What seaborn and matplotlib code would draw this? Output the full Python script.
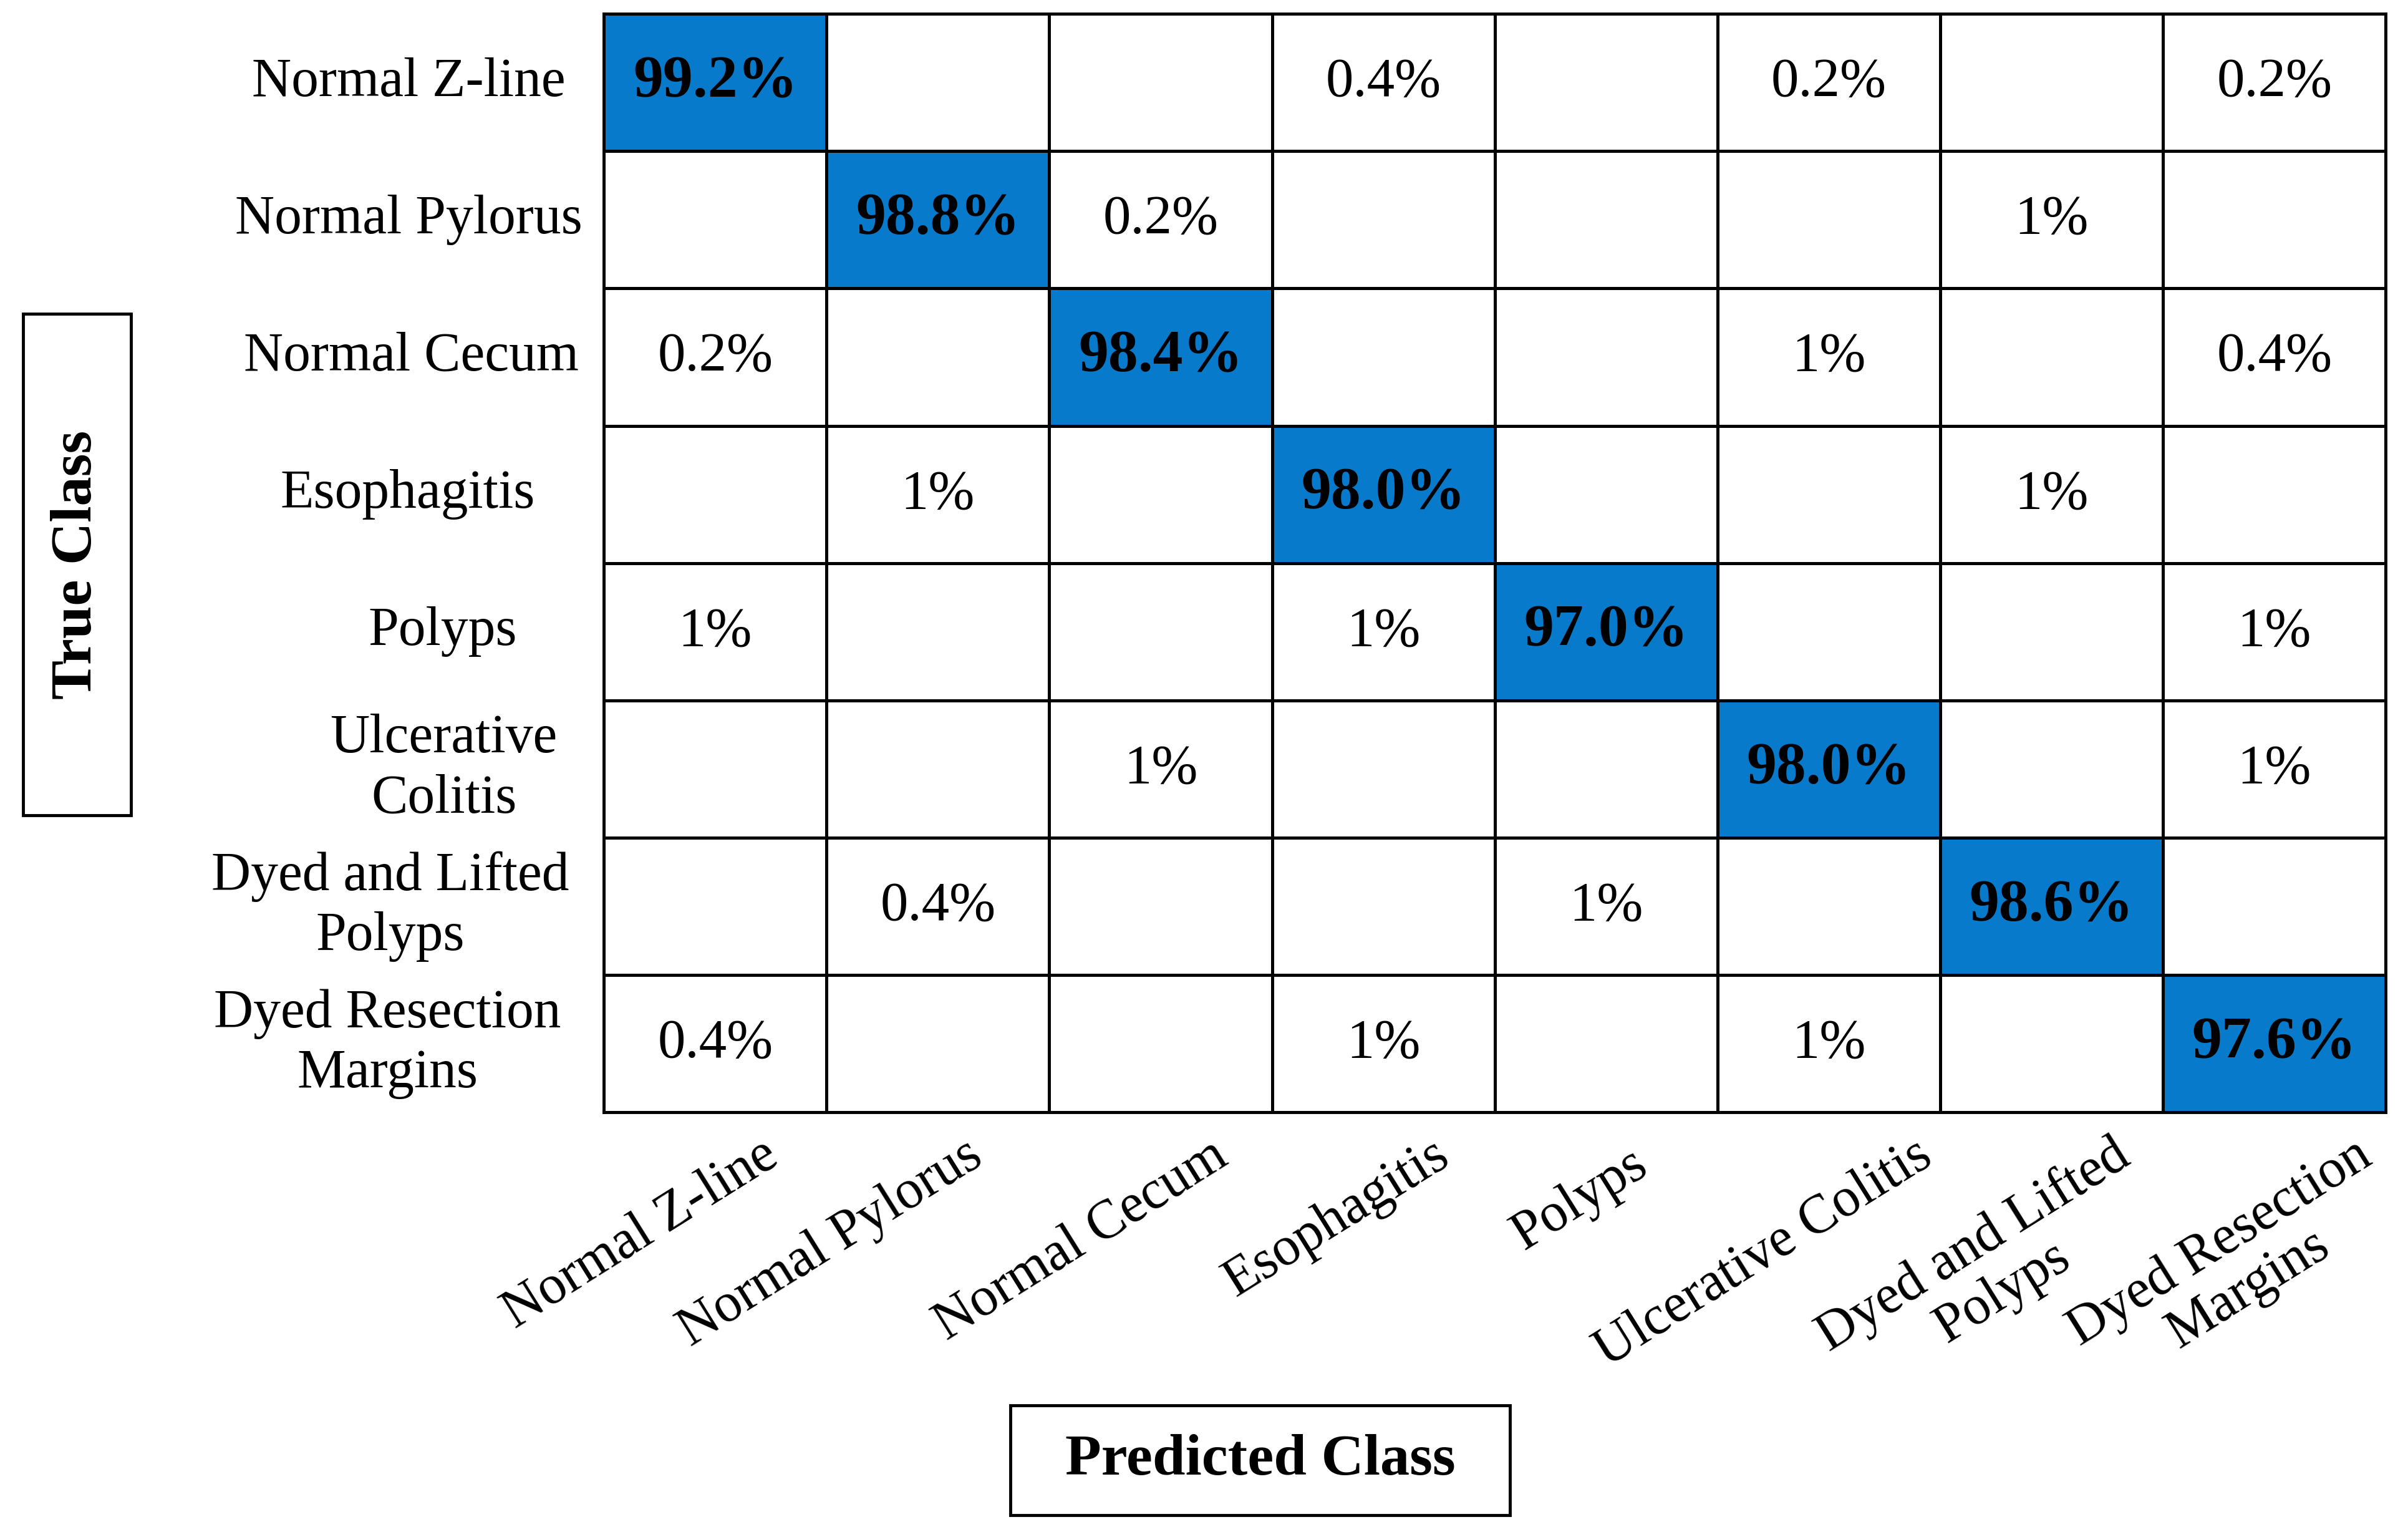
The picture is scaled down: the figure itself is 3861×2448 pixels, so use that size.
import numpy as np
import pandas as pd
import matplotlib
matplotlib.use("Agg")
import matplotlib.pyplot as plt
import matplotlib.transforms as mtransforms
from matplotlib.colors import ListedColormap
from matplotlib.patches import Rectangle
import seaborn as sns

classes = ["Normal Z-line", "Normal Pylorus", "Normal Cecum", "Esophagitis",
           "Polyps", "Ulcerative Colitis", "Dyed and Lifted Polyps",
           "Dyed Resection Margins"]
y_labels = ["Normal Z-line", "Normal Pylorus", "Normal Cecum", "Esophagitis",
            "Polyps", "Ulcerative\nColitis", "Dyed and Lifted\nPolyps",
            "Dyed Resection\nMargins"]
x_labels = ["Normal Z-line", "Normal Pylorus", "Normal Cecum", "Esophagitis",
            "Polyps", "Ulcerative Colitis", "Dyed and Lifted\nPolyps",
            "Dyed Resection\nMargins"]

nan = np.nan
row_z_line    = [99.2, nan, nan, 0.4, nan, 0.2, nan, 0.2]
row_pylorus   = [nan, 98.8, 0.2, nan, nan, nan, 1, nan]
row_cecum     = [0.2, nan, 98.4, nan, nan, 1, nan, 0.4]
row_esophag   = [nan, 1, nan, 98.0, nan, nan, 1, nan]
row_polyps    = [1, nan, nan, 1, 97.0, nan, nan, 1]
row_ulcer     = [nan, nan, 1, nan, nan, 98.0, nan, 1]
row_dyed_lift = [nan, 0.4, nan, nan, 1, nan, 98.6, nan]
row_dyed_res  = [0.4, nan, nan, 1, nan, 1, nan, 97.6]

values = np.array([row_z_line, row_pylorus, row_cecum, row_esophag,
                   row_polyps, row_ulcer, row_dyed_lift, row_dyed_res], dtype=float)

labels = np.empty(values.shape, dtype=object)
for i in range(values.shape[0]):
    for j in range(values.shape[1]):
        v = values[i, j]
        if np.isnan(v):
            labels[i, j] = ""
        elif i == j:
            labels[i, j] = f"{v:.1f}%"
        else:
            labels[i, j] = f"{v:g}%"

df = pd.DataFrame(np.nan_to_num(values), index=classes, columns=classes)
is_diag = (df.values >= 50).astype(float)

sns.set_theme(style="white")
plt.rcParams["font.family"] = ["Liberation Serif", "DejaVu Serif"]
plt.rcParams["text.color"] = "black"
plt.rcParams["xtick.color"] = "black"
plt.rcParams["ytick.color"] = "black"
plt.rcParams["xtick.labelcolor"] = "black"
plt.rcParams["ytick.labelcolor"] = "black"

BLUE = "#077ACB"
fig = plt.figure(figsize=(38.62, 24.48), dpi=100)
ax = fig.add_axes([0.2507, 0.2715, 0.9905 - 0.2507, 0.991 - 0.2715])

sns.heatmap(pd.DataFrame(is_diag, index=classes, columns=classes), ax=ax,
            cmap=ListedColormap(["white", BLUE]), vmin=0, vmax=1, cbar=False,
            annot=labels, fmt="", linewidths=3.5, linecolor="black",
            annot_kws={"color": "black", "fontsize": 64})

for t in ax.texts:
    x, y = t.get_position()
    if int(x) == int(y):
        t.set_fontweight("bold")
        t.set_fontsize(69)

for s in ax.spines.values():
    s.set_visible(True)
    s.set_color("black")
    s.set_linewidth(3.5)

ax.tick_params(axis="both", length=0)
ax.set_xlabel("")
ax.set_ylabel("")

# y tick labels, centered in the left margin
ax.set_yticklabels(y_labels, rotation=0, ha="center", fontsize=63,
                   linespacing=1.25, color="black")
ax.tick_params(axis="y", pad=225)
y_nudge_px = [0, 0, 4, -2, 54, 56, -30, -34]
for lab, dx in zip(ax.get_yticklabels(), y_nudge_px):
    lab.set_transform(lab.get_transform() +
                      mtransforms.ScaledTranslation(dx / 100, 0, fig.dpi_scale_trans))

# x tick labels, rotated
ax.set_xticklabels(x_labels, rotation=32, ha="right", va="top",
                   rotation_mode="anchor", fontsize=63, linespacing=1.1,
                   multialignment="center", color="black")
ax.tick_params(axis="x", pad=0)
x_nudge_px = [(0, 0), (-30, 0), (7, 0), (5, 0), (-35, -15), (64, 0), (25, 0), (55, 0)]
for lab, (dx, dy) in zip(ax.get_xticklabels(), x_nudge_px):
    off = mtransforms.ScaledTranslation(0.72 + dx / 100, -0.28 + dy / 100,
                                        fig.dpi_scale_trans)
    lab.set_transform(lab.get_transform() + off)

# Axis title boxes
fig.patches.append(Rectangle((0.00958, 0.4661), 0.0448, 0.3284,
                             transform=fig.transFigure, fill=False,
                             edgecolor="black", linewidth=3.5))
fig.text(0.0321, 0.630, "True Class", rotation=90, ha="center", va="center",
         fontsize=68, fontweight="bold", color="black")

fig.patches.append(Rectangle((0.4195, 0.00776), 0.2075, 0.0719,
                             transform=fig.transFigure, fill=False,
                             edgecolor="black", linewidth=3.5))
fig.text(0.5232, 0.0437, "Predicted Class", ha="center", va="center",
         fontsize=68, fontweight="bold", color="black")

fig.savefig("out.png", dpi=100, facecolor="white")
